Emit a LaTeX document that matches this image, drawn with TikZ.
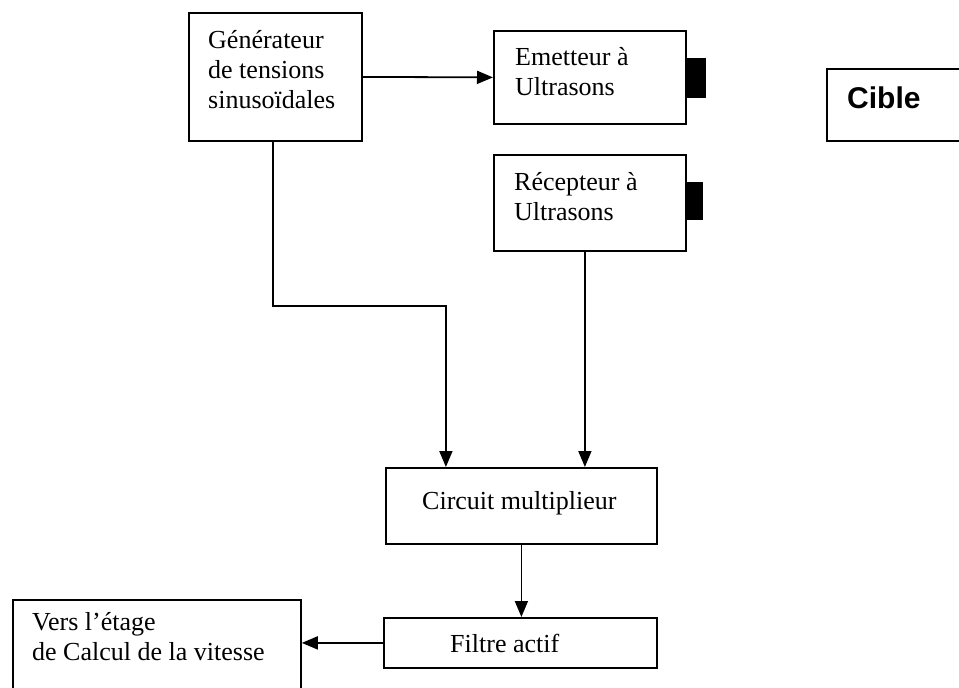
\documentclass[tikz,border=0pt]{standalone}
\usepackage{fontspec}
\setmainfont{Liberation Serif}
\newfontfamily\arialfont{Liberation Sans}
\usetikzlibrary{arrows.meta}
\begin{document}
\begin{tikzpicture}[x=1pt,y=-1pt,
  box/.style={draw, line width=1.8pt, anchor=north west, inner sep=0pt, fill=white},
  txt/.style={anchor=base west, inner sep=0pt, align=left, font=\fontsize{26}{30}\selectfont},
  probe/.style={fill=black, draw=black, line width=0.8pt},
  arr/.style={line width=1.8pt, -{Triangle[length=16pt,width=13pt]}}]
\useasboundingbox (0,0) rectangle (959,688);
% boxes
\node[box, minimum width=173pt, minimum height=128pt] (gen) at (188,12) {};
\node[box, minimum width=192pt, minimum height=93pt] (emit) at (493,30) {};
\node[box, minimum width=140pt, minimum height=72pt] (cible) at (826,68) {};
\node[box, minimum width=192pt, minimum height=96pt] (recv) at (493,154) {};
\node[box, minimum width=271pt, minimum height=76pt] (mult) at (385,467) {};
\node[box, minimum width=273pt, minimum height=50pt] (filt) at (383,617) {};
\node[box, minimum width=288pt, minimum height=100pt] (vers) at (12,599) {};
% transducers
\fill[probe] (685,58) rectangle (705,97);
\fill[probe] (685,182) rectangle (702,219);
% texts (anchored at the baseline of the last line)
\node[txt] (tgen) at (208,108) {Générateur\\de tensions\\sinusoïdales};
\node[txt] (temit) at (515,95) {Emetteur à\\Ultrasons};
\node[txt, font=\arialfont\bfseries\fontsize{30}{34}\selectfont] (tcible) at (847,108) {Cible};
\node[txt] (trecv) at (514,220) {Récepteur à\\Ultrasons};
\node[txt] (tmult) at (422,509) {Circuit multiplieur};
\node[txt] (tfilt) at (450,652) {Filtre actif};
\node[txt] (tvers) at (32,660) {Vers l’étage\\de Calcul de la vitesse};
% connectors
\draw[arr] (gen.east) -- (emit.west);
\draw[arr] ([xshift=-2.5pt]gen.south) -- ++(0,164) -| ([xshift=-75.5pt]mult.north);
\draw[arr] ([xshift=-5pt]recv.south) -- ([xshift=63.5pt]mult.north);
\draw[arr] (mult.south) -- (mult.south |- filt.north);
\draw[arr] (filt.west) -- (filt.west -| vers.east);
\end{tikzpicture}
\end{document}
